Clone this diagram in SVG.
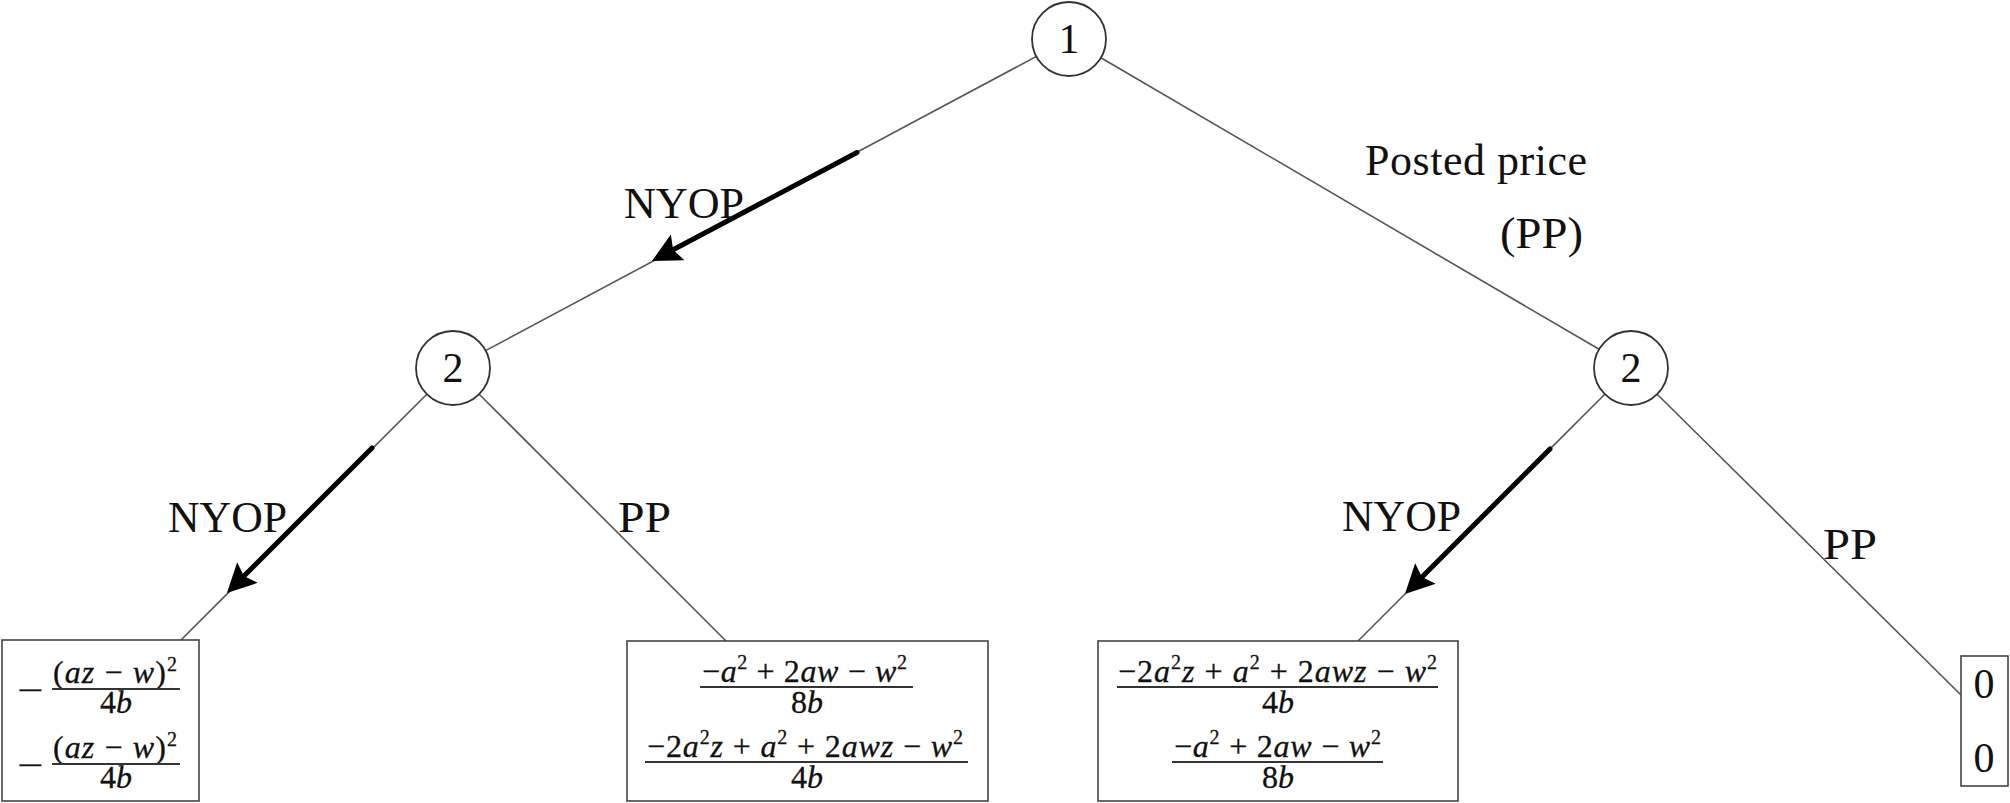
<svg xmlns="http://www.w3.org/2000/svg" width="2010" height="803" viewBox="0 0 2010 803">
<style>
.bg{fill:#fff}
.edge{stroke:#555;stroke-width:1.6;fill:none}
.bold{stroke:#000;stroke-width:5;stroke-linecap:round;fill:none}
.node{fill:#fff;stroke:#333;stroke-width:1.8}
.box{fill:#fff;stroke:#444;stroke-width:1.6}
.bar{stroke:#333;stroke-width:1.8}
.lbl{font-family:"Liberation Serif",serif;font-size:44px;fill:#111}
.num{font-family:"Liberation Serif",serif;font-size:42px;fill:#111;text-anchor:middle}
.m{font-family:"Liberation Serif",serif;font-size:32px;fill:#111;stroke:#111;stroke-width:0.3}
.c{text-anchor:middle}
.i{font-style:italic}
.sup{font-size:20px;font-style:normal}
</style>
<defs>
<marker id="ah" markerUnits="userSpaceOnUse" orient="auto" markerWidth="50" markerHeight="40" viewBox="-30 -20 50 40" refX="0" refY="0">
<path d="M 10 0 L -19 -14.5 L -14 0 L -19 14.5 Z" fill="#000"/>
</marker>
</defs>
<rect class="bg" x="0" y="0" width="2010" height="803"/>
<g id="connectors">
<line class="edge" x1="1036.4" y1="56.4" x2="485.6" y2="350.6"/>
<line class="edge" x1="1100.9" y1="57.7" x2="1599.1" y2="349.3"/>
<line class="edge" x1="426.8" y1="394.2" x2="181" y2="640"/>
<line class="edge" x1="479.2" y1="394.2" x2="726" y2="641"/>
<line class="edge" x1="1604.8" y1="394.2" x2="1358" y2="641"/>
<line class="edge" x1="1657.2" y1="394.2" x2="1961" y2="695"/>
<line class="bold" x1="857" y1="152.5" x2="660.8" y2="256.3" marker-end="url(#ah)"/>
<line class="bold" x1="372" y1="448" x2="234" y2="586" marker-end="url(#ah)"/>
<line class="bold" x1="1550" y1="449" x2="1412" y2="587" marker-end="url(#ah)"/>
<text class="lbl" x="624" y="218" textLength="120" lengthAdjust="spacingAndGlyphs">NYOP</text>
<text class="lbl" x="1365" y="175" textLength="222" lengthAdjust="spacing">Posted price</text>
<text class="lbl" x="1500" y="248" textLength="83" lengthAdjust="spacingAndGlyphs">(PP)</text>
<text class="lbl" x="168" y="532" textLength="119" lengthAdjust="spacingAndGlyphs">NYOP</text>
<text class="lbl" x="618" y="532" textLength="53" lengthAdjust="spacingAndGlyphs">PP</text>
<text class="lbl" x="1342" y="531" textLength="119" lengthAdjust="spacingAndGlyphs">NYOP</text>
<text class="lbl" x="1823" y="559" textLength="54" lengthAdjust="spacingAndGlyphs">PP</text>
</g>
<g id="n1">
<circle class="node" cx="1069" cy="39" r="37"/>
<text class="num" x="1069" y="53">1</text>
</g>
<g id="n2a">
<circle class="node" cx="453" cy="368" r="37"/>
<text class="num" x="453" y="382">2</text>
</g>
<g id="n2b">
<circle class="node" cx="1631" cy="368" r="37"/>
<text class="num" x="1631" y="382">2</text>
</g>
<g id="leaf1">
<rect class="box" x="2" y="640" width="197" height="161"/>
<text class="m" x="17" y="701" font-size="38" textLength="26" lengthAdjust="spacingAndGlyphs">−</text>
<text class="m" x="53" y="683" textLength="124" lengthAdjust="spacing">(<tspan class="i">az</tspan> − <tspan class="i">w</tspan>)<tspan class="sup" dy="-12">2</tspan></text>
<line class="bar" x1="52" y1="689" x2="180" y2="689"/>
<text class="m c" x="116" y="713">4<tspan class="i">b</tspan></text>
<text class="m" x="17" y="776" font-size="38" textLength="26" lengthAdjust="spacingAndGlyphs">−</text>
<text class="m" x="53" y="758" textLength="124" lengthAdjust="spacing">(<tspan class="i">az</tspan> − <tspan class="i">w</tspan>)<tspan class="sup" dy="-12">2</tspan></text>
<line class="bar" x1="52" y1="764" x2="180" y2="764"/>
<text class="m c" x="116" y="788">4<tspan class="i">b</tspan></text>
</g>
<g id="leaf2">
<rect class="box" x="627" y="641" width="361" height="160"/>
<text class="m" x="702" y="682" textLength="205" lengthAdjust="spacing">−<tspan class="i">a</tspan><tspan class="sup" dy="-13">2</tspan><tspan dy="13"> + 2</tspan><tspan class="i">aw</tspan> − <tspan class="i">w</tspan><tspan class="sup" dy="-13">2</tspan></text>
<line class="bar" x1="700" y1="687" x2="913" y2="687"/>
<text class="m c" x="807" y="713">8<tspan class="i">b</tspan></text>
<text class="m" x="647" y="757" textLength="316" lengthAdjust="spacing">−2<tspan class="i">a</tspan><tspan class="sup" dy="-13">2</tspan><tspan class="i" dy="13">z</tspan> + <tspan class="i">a</tspan><tspan class="sup" dy="-13">2</tspan><tspan dy="13"> + 2</tspan><tspan class="i">awz</tspan> − <tspan class="i">w</tspan><tspan class="sup" dy="-13">2</tspan></text>
<line class="bar" x1="645" y1="762" x2="968" y2="762"/>
<text class="m c" x="807" y="788">4<tspan class="i">b</tspan></text>
</g>
<g id="leaf3">
<rect class="box" x="1098" y="641" width="360" height="160"/>
<text class="m" x="1118" y="682" textLength="319" lengthAdjust="spacing">−2<tspan class="i">a</tspan><tspan class="sup" dy="-13">2</tspan><tspan class="i" dy="13">z</tspan> + <tspan class="i">a</tspan><tspan class="sup" dy="-13">2</tspan><tspan dy="13"> + 2</tspan><tspan class="i">awz</tspan> − <tspan class="i">w</tspan><tspan class="sup" dy="-13">2</tspan></text>
<line class="bar" x1="1117" y1="687" x2="1438" y2="687"/>
<text class="m c" x="1278" y="713">4<tspan class="i">b</tspan></text>
<text class="m" x="1174" y="757" textLength="207" lengthAdjust="spacing">−<tspan class="i">a</tspan><tspan class="sup" dy="-13">2</tspan><tspan dy="13"> + 2</tspan><tspan class="i">aw</tspan> − <tspan class="i">w</tspan><tspan class="sup" dy="-13">2</tspan></text>
<line class="bar" x1="1172" y1="762" x2="1383" y2="762"/>
<text class="m c" x="1278" y="788">8<tspan class="i">b</tspan></text>
</g>
<g id="leaf4">
<rect class="box" x="1961" y="656" width="47" height="130"/>
<text class="num" x="1984" y="698">0</text>
<text class="num" x="1984" y="772">0</text>
</g>
</svg>
